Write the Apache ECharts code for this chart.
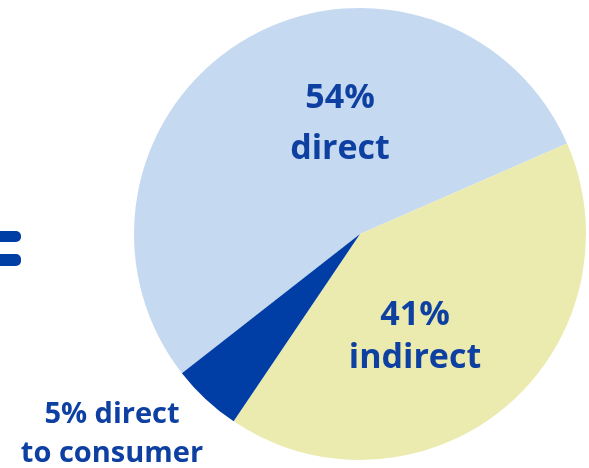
<!DOCTYPE html>
<html><head><meta charset="utf-8">
<script src="https://cdn.jsdelivr.net/npm/echarts@6/dist/echarts.min.js"></script>
<style>html,body{margin:0;padding:0;background:#fff}#c{width:589px;height:468px}</style>
</head><body><div id="c"></div>
<script>
const categories = ['direct', 'indirect', 'direct to consumer'];
const values = [54, 41, 5];
const labelLines = [['54%', 'direct'], ['41%', 'indirect'], ['5% direct', 'to consumer']];
const colors = ['#C5D9F0', '#EBEBAF', '#003DA5'];
const textColor = '#0E40A2';
// per-label: center x, first baseline, second baseline, font size
const labelLayout = [[340, 108, 159, 34], [415, 325, 368, 34], [112, 423, 462, 29]];

const chart = echarts.init(document.getElementById('c'), null, {renderer: 'canvas'});
const graphics = [
  {type: 'rect', shape: {x: -10, y: 231, width: 31, height: 11, r: 5}, style: {fill: '#003DA5'}},
  {type: 'rect', shape: {x: -10, y: 254, width: 31, height: 12, r: 5}, style: {fill: '#003DA5'}}
];
labelLines.forEach((lines, i) => {
  const [cx, b1, b2, fs] = labelLayout[i];
  [b1, b2].forEach((b, j) => {
    graphics.push({
      type: 'text', x: cx, y: Math.round(b - 0.79 * fs), z: 10,
      style: {text: lines[j], font: 'bold ' + fs + 'px "Open Sans", sans-serif', fill: textColor, align: 'center', verticalAlign: 'top'}
    });
  });
});
chart.setOption({
  animation: false,
  graphic: graphics,
  series: [{
    type: 'pie',
    center: [360, 234],
    radius: [0, 226],
    startAngle: 218,
    clockwise: true,
    label: {show: false},
    labelLine: {show: false},
    itemStyle: {borderWidth: 0},
    data: categories.map((c, i) => ({name: c, value: values[i], itemStyle: {color: colors[i]}}))
  }]
});
</script></body></html>
